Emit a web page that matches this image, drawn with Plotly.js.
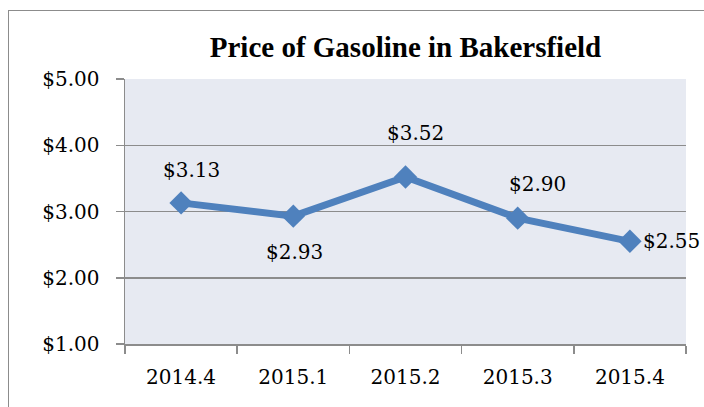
<!DOCTYPE html>
<html><head><meta charset="utf-8">
<script src="https://cdn.plot.ly/plotly-3.0.1.min.js"></script>
<style>
html,body{margin:0;padding:0;background:#fff;overflow:hidden}
#frame{position:absolute;left:8px;top:10px;width:720px;height:420px;border:1px solid #8c8c8c;box-sizing:border-box}
#chart{position:absolute;left:0;top:0;width:704px;height:407px}
</style></head>
<body>
<div id="frame"></div>
<div id="chart"></div>
<script>
const quarters = ["2014.4","2015.1","2015.2","2015.3","2015.4"];
const prices = [3.13, 2.93, 3.52, 2.90, 2.55];
const yTicks = [1,2,3,4,5];
// label placement offsets (pixels) relative to each point
const labelDx = [10, 1, 10, 20, 11];
const labelDy = [33, -36, 44, 34, 0];
const labelAnchor = ["center","center","center","center","left"];

const fmt = v => "$" + v.toFixed(2);
const trace = {
  x: quarters, y: prices, type: "scatter", mode: "lines+markers",
  line: {color: "#4F81BD", width: 7},
  marker: {symbol: "diamond", size: 18, color: "#4F81BD"},
  cliponaxis: false, hoverinfo: "none"
};
const annotations = quarters.map((q, i) => ({
  x: i, y: prices[i], xref: "x", yref: "y", text: fmt(prices[i]), showarrow: false,
  xanchor: labelAnchor[i], yanchor: "middle", xshift: labelDx[i], yshift: labelDy[i],
  font: {family: "DejaVu Serif", size: 20, color: "#000"}
}));
const tickFont = {family: "DejaVu Serif", size: 20, color: "#000"};
const layout = {
  width: 704, height: 407,
  margin: {l: 125, r: 18, t: 79, b: 63},
  paper_bgcolor: "rgba(0,0,0,0)", plot_bgcolor: "#E7EAF2",
  showlegend: false, annotations: annotations,
  title: {text: "<b>Price of Gasoline in Bakersfield</b>", x: 0.576, xanchor: "center", y: 0.885, yanchor: "middle",
          font: {family: "Liberation Serif", size: 29, color: "#000"}},
  xaxis: {type: "category", range: [-0.5, 4.5], autorange: false, showgrid: false, showline: true, linecolor: "#8c8c8c", linewidth: 1.5,
          ticks: "outside", tickson: "boundaries", ticklen: 8, tickcolor: "#8c8c8c", tickwidth: 1.5,
          ticklabelstandoff: 14, tickfont: tickFont, zeroline: false, fixedrange: true},
  yaxis: {range: [1,5], autorange: false, tickvals: yTicks, ticktext: yTicks.map(fmt),
          showgrid: true, gridcolor: "#8c8c8c", gridwidth: 1.5, showline: true, linecolor: "#8c8c8c", linewidth: 1.5,
          ticks: "outside", ticklen: 8, tickcolor: "#8c8c8c", tickwidth: 1.5, zeroline: false,
          ticklabelstandoff: 12, tickfont: tickFont, fixedrange: true}
};
Plotly.newPlot("chart", [trace], layout, {staticPlot: true});
</script>
</body></html>
